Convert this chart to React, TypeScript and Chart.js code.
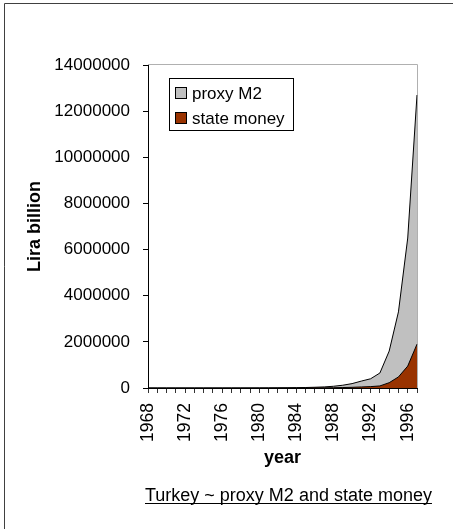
import { useEffect, useRef } from "react";
import { Chart, registerables } from "chart.js";

Chart.register(...registerables);

const years = [
  1968, 1969, 1970, 1971, 1972, 1973, 1974, 1975, 1976, 1977,
  1978, 1979, 1980, 1981, 1982, 1983, 1984, 1985, 1986, 1987,
  1988, 1989, 1990, 1991, 1992, 1993, 1994, 1995, 1996, 1997,
];
const tickYears = [1968, 1972, 1976, 1980, 1984, 1988, 1992, 1996];

const proxyM2 = [
  100, 115, 135, 165, 205, 260, 330, 420, 540, 720,
  1000, 1600, 2700, 4500, 6500, 9000, 14000, 21000, 32000, 47000,
  75000, 120000, 190000, 300000, 400000, 650000, 1600000, 3300000, 6500000, 12700000,
];
const stateMoney = [
  30, 35, 40, 50, 60, 75, 95, 120, 150, 200,
  280, 420, 700, 1100, 1600, 2300, 3400, 5000, 7000, 9000,
  12000, 20000, 30000, 45000, 60000, 90000, 230000, 480000, 950000, 1900000,
];
const yMin = 0;
const yMax = 14000000;
const yStep = 2000000;

const seriesNames = ["proxy M2", "state money"];
const seriesColors = ["#C0C0C0", "#993300"];
const yTitle = "Lira billion";
const xTitle = "year";
const caption = "Turkey ~ proxy M2 and state money";

const FONT = "'Liberation Sans', Arial, Helvetica, sans-serif";

const framePlugin = {
  id: "frame",
  beforeDatasetsDraw(chart: any) {
    const { ctx, chartArea } = chart;
    ctx.save();
    ctx.strokeStyle = "#b0b0b0";
    ctx.lineWidth = 1;
    ctx.beginPath();
    ctx.moveTo(chartArea.left, Math.round(chartArea.top) - 0.5);
    ctx.lineTo(Math.round(chartArea.right) + 0.5, Math.round(chartArea.top) - 0.5);
    ctx.lineTo(Math.round(chartArea.right) + 0.5, chartArea.bottom);
    ctx.stroke();
    ctx.restore();
  },
  afterDraw(chart: any) {
    const { ctx, chartArea, width, height } = chart;
    ctx.save();
    // outer frame (left and top)
    ctx.strokeStyle = "#404040";
    ctx.lineWidth = 1;
    ctx.beginPath();
    ctx.moveTo(4.5, height);
    ctx.lineTo(4.5, 3.5);
    ctx.lineTo(width, 3.5);
    ctx.stroke();

    // y title
    ctx.fillStyle = "#000";
    ctx.font = `bold 18px ${FONT}`;
    ctx.textAlign = "center";
    ctx.textBaseline = "alphabetic";
    ctx.save();
    ctx.translate(40, (chartArea.top + chartArea.bottom) / 2);
    ctx.rotate(-Math.PI / 2);
    ctx.fillText(yTitle, 0, 0);
    ctx.restore();

    // x title
    ctx.fillText(xTitle, (chartArea.left + chartArea.right) / 2, 463);

    // caption
    ctx.font = `18px ${FONT}`;
    ctx.textAlign = "left";
    const cx = 145;
    ctx.fillText(caption, cx, 501);
    const w = ctx.measureText(caption).width;
    ctx.fillRect(cx, 503, w, 1);

    // legend
    const lx = 169.5, ly = 78.5, lw = 124, lh = 52;
    ctx.fillStyle = "#fff";
    ctx.fillRect(lx, ly, lw, lh);
    ctx.strokeStyle = "#000";
    ctx.strokeRect(lx, ly, lw, lh);
    ctx.font = `17px ${FONT}`;
    const rows = [93, 118];
    seriesNames.forEach((name, i) => {
      const cy = rows[i];
      ctx.fillStyle = seriesColors[i];
      ctx.fillRect(175.5, cy - 5.5, 11, 11);
      ctx.strokeStyle = "#000";
      ctx.strokeRect(175.5, cy - 5.5, 11, 11);
      ctx.fillStyle = "#000";
      ctx.textBaseline = "middle";
      ctx.fillText(name, 192, cy + 1);
    });
    ctx.restore();
  },
};

export default function App() {
  const ref = useRef<HTMLCanvasElement>(null);
  useEffect(() => {
    Chart.defaults.font.family = FONT;
    const chart = new Chart(ref.current!, {
      type: "line",
      data: {
        labels: years.map(String),
        datasets: [
          {
            label: seriesNames[0],
            data: proxyM2,
            fill: "origin",
            backgroundColor: seriesColors[0],
            borderColor: "#000",
            borderWidth: 1,
            pointRadius: 0,
            tension: 0,
            order: 2,
          },
          {
            label: seriesNames[1],
            data: stateMoney,
            fill: "origin",
            backgroundColor: seriesColors[1],
            borderColor: "#000",
            borderWidth: 1,
            pointRadius: 0,
            tension: 0,
            order: 1,
          },
        ],
      },
      options: {
        responsive: false,
        animation: false,
        devicePixelRatio: 1,
        layout: { padding: { top: 65, right: 36, left: 0, bottom: 0 } },
        plugins: { legend: { display: false }, tooltip: { enabled: false } },
        scales: {
          x: {
            type: "category",
            offset: false,
            grid: { display: true, drawOnChartArea: false, drawTicks: true, tickLength: 5, color: "#333" },
            border: { display: true, color: "#000", width: 1 },
            ticks: {
              autoSkip: false,
              minRotation: 90,
              maxRotation: 90,
              padding: 10,
              color: "#000",
              font: { family: FONT, size: 17.5 },
              callback: (_v: any, i: number) =>
                tickYears.includes(years[i]) ? String(years[i]) : "",
            },
            afterFit: (s: any) => {
              s.height = 141;
            },
          },
          y: {
            min: yMin,
            max: yMax,
            ticks: {
              stepSize: yStep,
              padding: 13,
              color: "#000",
              font: { family: FONT, size: 17 },
              callback: (v: any) => String(v),
            },
            grid: { drawOnChartArea: false, tickLength: 5, color: "#000" },
            border: { display: true, color: "#000", width: 1 },
            afterFit: (s: any) => {
              s.width = 148;
            },
          },
        },
      } as any,
      plugins: [framePlugin],
    });
    return () => chart.destroy();
  }, []);
  return (
    <div style={{ position: "absolute", left: 0, top: 0, width: 453, height: 529, background: "#fff" }}>
      <canvas ref={ref} width={453} height={529} style={{ display: "block" }} />
    </div>
  );
}
